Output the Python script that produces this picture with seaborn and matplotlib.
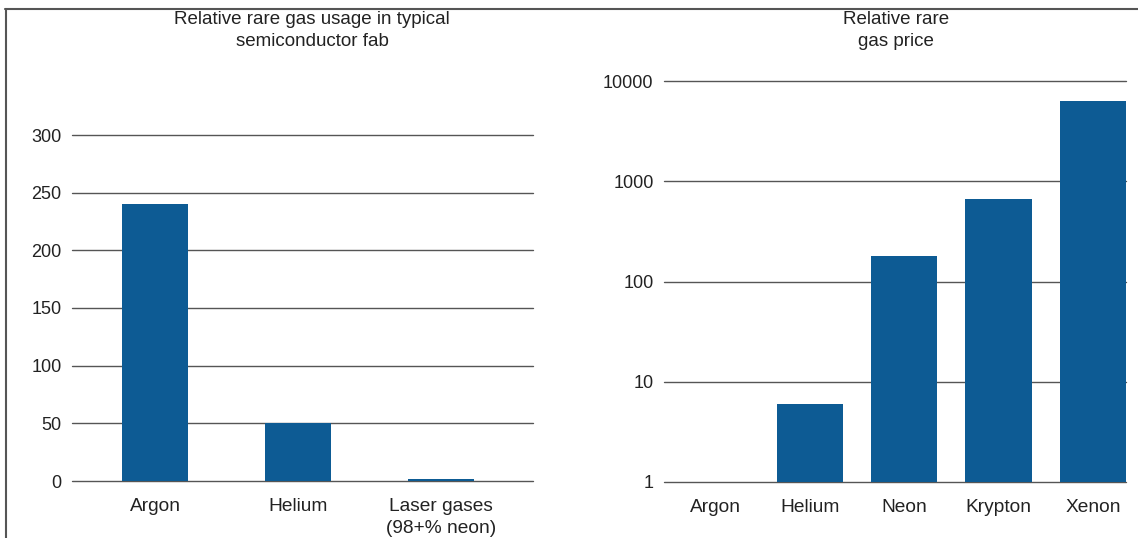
import matplotlib
matplotlib.use("Agg")
import matplotlib.pyplot as plt
from matplotlib.lines import Line2D
import seaborn as sns
import pandas as pd

# Rare gas usage in a typical fab (relative units)
usage_gases = ["Argon", "Helium", "Laser gases\n(98+% neon)"]
usage_values = [240, 50, 2]
usage_ticks = [0, 50, 100, 150, 200, 250, 300]

# Relative rare gas price (log scale)
price_gases = ["Argon", "Helium", "Neon", "Krypton", "Xenon"]
price_values = [1, 6, 180, 670, 6300]
price_ticks = [1, 10, 100, 1000, 10000]
price_tick_labels = ["1", "10", "100", "1000", "10000"]

BAR = "#0d5b94"
GRID = "#555555"
TEXT = "#222222"

sns.set_theme(style="white")
plt.rcParams["font.family"] = ["Liberation Sans", "DejaVu Sans"]
plt.rcParams["text.color"] = TEXT

W, H = 1138, 538
fig = plt.figure(figsize=(W / 100, H / 100), dpi=100)


def frac(x0, y0, x1, y1):
    return [x0 / W, 1 - y1 / H, (x1 - x0) / W, (y1 - y0) / H]


ax1 = fig.add_axes(frac(72, 135, 533, 481))
ax2 = fig.add_axes(frac(664, 81, 1126, 482))

usage_df = pd.DataFrame({"gas": usage_gases, "value": usage_values})
price_df = pd.DataFrame({"gas": price_gases, "value": price_values})

sns.barplot(data=usage_df, x="gas", y="value", color=BAR, width=0.46,
            saturation=1, linewidth=0, ax=ax1, zorder=3)
ax2.set_yscale("log")
sns.barplot(data=price_df, x="gas", y="value", color=BAR, width=0.70,
            saturation=1, linewidth=0, ax=ax2, zorder=3)

ax1.set_ylim(0, 300)
ax1.set_xlim(-0.58, 2.64)
ax1.set_yticks(usage_ticks)
ax1.set_yticklabels([str(t) for t in usage_ticks])
ax1.set_xticks(range(len(usage_gases)))
ax1.set_xticklabels(usage_gases, linespacing=1.35)

ax2.set_ylim(1, 10000)
ax2.set_xlim(-0.543, 4.35)
ax2.yaxis.set_minor_locator(matplotlib.ticker.NullLocator())
ax2.set_yticks(price_ticks)
ax2.set_yticklabels(price_tick_labels)
ax2.set_xticks(range(len(price_gases)))
ax2.set_xticklabels(price_gases)

for ax in (ax1, ax2):
    ax.set_xlabel("")
    ax.set_ylabel("")
    for s in ax.spines.values():
        s.set_visible(False)
    ax.set_axisbelow(True)
    ax.yaxis.grid(True, color=GRID, linewidth=1.0)
    ax.xaxis.grid(False)
    for gl in ax.get_ygridlines():
        gl.set_clip_on(False)
    ax.tick_params(axis="y", length=0, labelsize=13, colors=TEXT, pad=7.5)
    ax.tick_params(axis="x", length=0, labelsize=13.8, colors=TEXT, pad=12.5)
    ax.set_facecolor("none")

fig.text(312 / W, 1 - 11 / H, "Relative rare gas usage in typical\nsemiconductor fab",
         ha="center", va="top", fontsize=13.5, linespacing=1.35)
fig.text(896 / W, 1 - 11 / H, "Relative rare\ngas price",
         ha="center", va="top", fontsize=13.5, linespacing=1.35)

# Outer frame: top and left edges
fig.add_artist(Line2D([5 / W, 1], [1 - 8.5 / H, 1 - 8.5 / H], transform=fig.transFigure,
                      color="#555555", linewidth=1.5))
fig.add_artist(Line2D([5.5 / W, 5.5 / W], [0, 1 - 8.5 / H], transform=fig.transFigure,
                      color="#555555", linewidth=1.5))

fig.savefig("out.png", dpi=100)
